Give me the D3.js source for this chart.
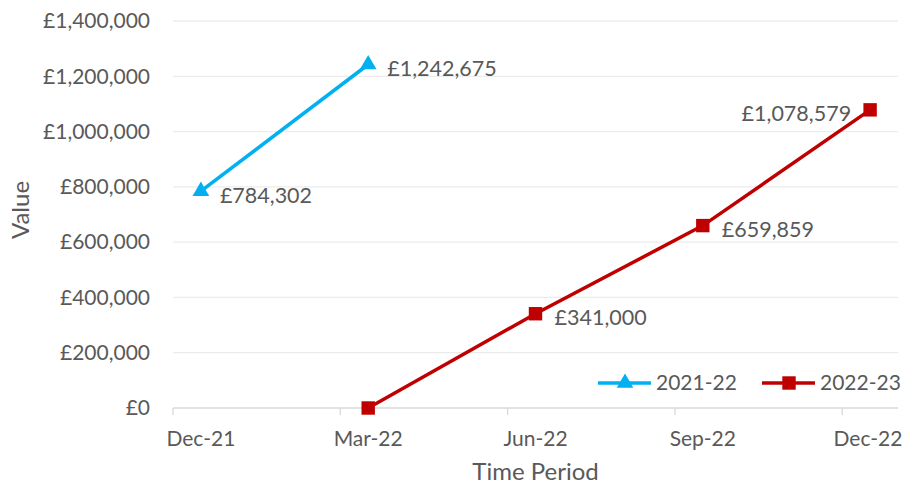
<!DOCTYPE html>
<html>
<head>
<meta charset="utf-8">
<script src="https://cdn.jsdelivr.net/npm/d3@7"></script>
<style>
  body { margin: 0; background: #fff; }
  text { font-family: Lato, "Open Sans", sans-serif; fill: #595959; }
</style>
</head>
<body>
<div id="root"></div>
<script>
const periods = ["Dec-21", "Mar-22", "Jun-22", "Sep-22", "Dec-22"]
const values2122 = [784302, 1242675, null, null, null]
const values2223 = [null, 0, 341000, 659859, 1078579]
const labelPos2223 = [null, null, "right", "right", "left"]
const yTicks = [0, 200000, 400000, 600000, 800000, 1000000, 1200000, 1400000]

const w = 903, h = 485
const plotLeft = 173, plotRight = 898, plotTop = 21, plotBottom = 408
const fs = 21

const x = d3.scaleLinear().domain([-1/6, periods.length - 1 + 1/6]).range([plotLeft, plotRight])
const y = d3.scaleLinear().domain([0, 1400000]).range([plotBottom, plotTop])
const money = v => "£" + d3.format(",")(v)

const svg = d3.select("#root").append("svg")
    .attr("width", w)
    .attr("height", h)

// gridlines
svg.append("g").selectAll("line.grid").data(yTicks.filter(d => d > 0)).enter().append("line")
    .attr("x1", plotLeft).attr("x2", plotRight)
    .attr("y1", d => y(d)).attr("y2", d => y(d))
    .attr("stroke", "#ececec").attr("stroke-width", 1.3)

// y axis labels
const yAxis = d3.axisLeft(y).tickValues(yTicks).tickSize(0).tickPadding(23).tickFormat(money)
const gy = svg.append("g").attr("transform", `translate(${plotLeft},0)`).call(yAxis)
gy.select(".domain").remove()
gy.selectAll("text").style("font-size", fs + "px").attr("font-family", null).attr("fill", "#595959")

// x axis: baseline + ticks between points
svg.append("line")
    .attr("x1", plotLeft).attr("x2", plotRight).attr("y1", plotBottom).attr("y2", plotBottom)
    .attr("stroke", "#d9d9d9").attr("stroke-width", 1.3)
svg.selectAll("line.xtick").data(periods).enter().append("line")
    .attr("x1", (d, i) => x(i - 1/6)).attr("x2", (d, i) => x(i - 1/6))
    .attr("y1", plotBottom).attr("y2", plotBottom + 7)
    .attr("stroke", "#d9d9d9").attr("stroke-width", 1.3)
svg.selectAll("text.xlab").data(periods).enter().append("text")
    .attr("x", (d, i) => Math.min(x(i), 868)).attr("y", 446)
    .attr("text-anchor", "middle").style("font-size", fs + "px")
    .text(d => d)

// axis titles
svg.append("text").attr("x", x((periods.length - 1) / 2)).attr("y", 480)
    .attr("text-anchor", "middle").style("font-size", "24px").text("Time Period")
svg.append("text").attr("transform", "translate(29,210) rotate(-90)")
    .attr("text-anchor", "middle").style("font-size", "24px").text("Value")

const line = d3.line().defined(d => d.v != null).x(d => x(d.i)).y(d => y(d.v))
const tri = d3.symbol().type(d3.symbolTriangle).size(120)
const sq = d3.symbol().type(d3.symbolSquare).size(180)

function series(vals, color, sym, pos) {
    const pts = vals.map((v, i) => ({ v, i, pos: pos[i] }))
    svg.append("path").datum(pts)
        .attr("d", line).attr("fill", "none")
        .attr("stroke", color).attr("stroke-width", 3.5)
    const real = pts.filter(d => d.v != null)
    svg.selectAll(null).data(real).enter().append("path")
        .attr("d", sym)
        .attr("transform", d => `translate(${x(d.i)},${y(d.v)})`)
        .attr("fill", color)
    svg.selectAll(null).data(real.filter(d => d.pos)).enter().append("text")
        .attr("x", d => d.pos == "left" ? x(d.i) - 19 : x(d.i) + 19)
        .attr("y", d => y(d.v) + 4)
        .attr("dy", "0.35em")
        .attr("text-anchor", d => d.pos == "left" ? "end" : "start")
        .style("font-size", (fs + 0.5) + "px")
        .text(d => money(d.v))
}

series(values2122, "#00b0f0", tri, values2122.map(v => v == null ? null : "right"))
series(values2223, "#c00000", sq, labelPos2223)

// legend
const legend = [
    { name: "2021-22", color: "#00b0f0", sym: tri, x0: 598 },
    { name: "2022-23", color: "#c00000", sym: sq, x0: 762 }
]
const lg = svg.selectAll("g.legend").data(legend).enter().append("g")
    .attr("transform", d => `translate(${d.x0},383)`)
lg.append("line").attr("x1", 0).attr("x2", 53).attr("y1", 0).attr("y2", 0)
    .attr("stroke", d => d.color).attr("stroke-width", 3.5)
lg.append("path").attr("d", d => d.sym()).attr("transform", "translate(27,0)")
    .attr("fill", d => d.color)
lg.append("text").attr("x", 58).attr("y", 0).attr("dy", "0.35em")
    .style("font-size", fs + "px").text(d => d.name)
</script>
</body>
</html>
